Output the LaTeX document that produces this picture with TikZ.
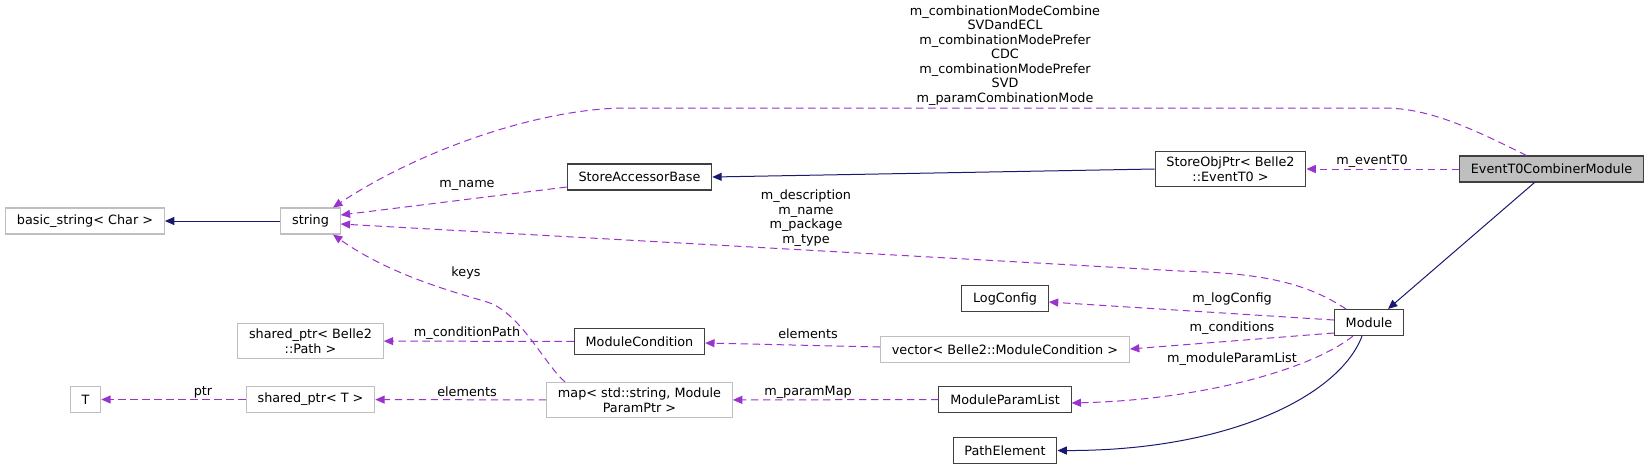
\documentclass[tikz,border=0pt]{standalone}
\usepackage{fontspec}
\setmainfont{DejaVu Sans}
\usetikzlibrary{arrows.meta, calc}

\definecolor{edgeblue}{RGB}{25,25,112}
\definecolor{edgepurple}{RGB}{154,50,205}
\definecolor{boxgray}{RGB}{191,191,191}
\definecolor{boxdark}{RGB}{64,64,64}

\begin{document}
\begin{tikzpicture}[
    x=0.75pt, y=-0.75pt,
    every node/.style={font=\fontsize{9.6}{10.9}\selectfont},
    cls/.style={draw=boxdark, line width=0.8pt, minimum height=19.5pt,
                inner xsep=8.5pt, inner ysep=4pt, align=center},
    ext/.style={cls, draw=boxgray},
    cur/.style={cls, fill=boxgray},
    lbl/.style={align=center, inner sep=0pt},
    inherit/.style={edgeblue, line width=0.75pt, -{Triangle[length=7pt, width=6pt]}},
    uses/.style={edgepurple, line width=0.75pt, dash pattern=on 5.5pt off 3.5pt,
                 -{Triangle[length=7pt, width=6pt]}},
]
\useasboundingbox (0,0) rectangle (1651,469);

% classes
\node[ext] (basicstr) at (85,221) {basic\_string< Char >};
\node[ext] (str) at (310.5,221) {string};
\node[cls] (sab) at (639.5,177) {StoreAccessorBase};
\node[cls] (sobj) at (1230.5,169) {StoreObjPtr< Belle2\\::EventT0 >};
\node[cur] (evt) at (1551.5,169) {EventT0CombinerModule};
\node[cls] (logcfg) at (1005,298.5) {LogConfig};
\node[cls] (module) at (1369,322.5) {Module};
\node[ext] (pathptr) at (310.5,341) {shared\_ptr< Belle2\\::Path >};
\node[cls] (modcond) at (639.5,341.5) {ModuleCondition};
\node[ext] (condvec) at (1005,349.5) {vector< Belle2::ModuleCondition >};
\node[ext] (tparam) at (85.5,399.5) {T};
\node[ext] (tptr) at (310.5,399.5) {shared\_ptr< T >};
\node[ext] (parammap) at (639.5,400) {map< std::string, Module\\ParamPtr >};
\node[cls] (paramlist) at (1005,399.5) {ModuleParamList};
\node[cls] (pathelem) at (1005,450.5) {PathElement};

% inheritance
\draw[inherit] (str) -- (basicstr);
\draw[inherit] (sobj.west) -- (sab.east);
\draw[inherit] ($(evt.south)+(-17,0)$) -- ($(module.north)+(19,0)$);
\draw[inherit] ($(module.south)+(-7,0)$) .. controls (1340,395) and (1230,451) .. (pathelem.east);

% members
\draw[uses] ($(evt.north)+(-25,0)$) .. controls (1475,130) and (1430,108) .. (1384,108)
    -- (627,108) .. controls (540,108) and (420,150) .. ($(str.north)+(22.5,0)$);
\node[lbl] (modelbl) at (1005,55.5) {m\_combinationModeCombine\\SVDandECL\\m\_combinationModePrefer\\CDC\\m\_combinationModePrefer\\SVD\\m\_paramCombinationMode};

\draw[uses] (evt.west) -- (sobj.east);
\node[lbl] (evtlbl) at (1372,161) {m\_eventT0};

\draw[uses] ($(sab.west)+(0,10)$) -- ($(str.east)+(0,-6)$);
\node[lbl] (namelbl) at (467,185) {m\_name};

\draw[uses] ($(module.north)+(-23,0)$) .. controls (1305,282) and (1260,273) .. (1180,271)
    -- ($(str.east)+(0,3)$);
\node[lbl] (desclbl) at (806,218) {m\_description\\m\_name\\m\_package\\m\_type};

\draw[uses] ($(module.west)+(0,-2.5)$) -- ($(logcfg.east)+(0,3.5)$);
\node[lbl] (loglbl) at (1232,299) {m\_logConfig};

\draw[uses] ($(module.west)+(0,10.5)$) -- ($(condvec.east)+(0,-0.5)$);
\node[lbl] (condlbl) at (1232,328) {m\_conditions};

\draw[uses] ($(module.south)+(-16,0)$) .. controls (1310,370) and (1200,400) .. ($(paramlist.east)+(0,3.5)$);
\node[lbl] (listlbl) at (1232,359) {m\_moduleParamList};

\draw[uses] ($(condvec.west)+(0,-2.5)$) -- ($(modcond.east)+(0,1.5)$);
\node[lbl] (elemlbl) at (808,334) {elements};

\draw[uses] (paramlist) -- (parammap);
\node[lbl] (maplbl) at (808,392) {m\_paramMap};

\draw[uses] (parammap) -- (tptr);
\node[lbl] (elemlblb) at (467,392) {elements};

\draw[uses] (tptr) -- (tparam);
\node[lbl] (ptrlbl) at (203,392) {ptr};

\draw[uses] (modcond) -- (pathptr);
\node[lbl] (pathlbl) at (467,333) {m\_conditionPath};

\draw[uses] ($(parammap.north)+(-74.5,0)$) .. controls (545,365) and (520,312) .. (487,302)
    .. controls (454,292) and (390,275) .. ($(str.south)+(22.5,0)$);
\node[lbl] (keyslbl) at (466,273) {keys};

\end{tikzpicture}
\end{document}
